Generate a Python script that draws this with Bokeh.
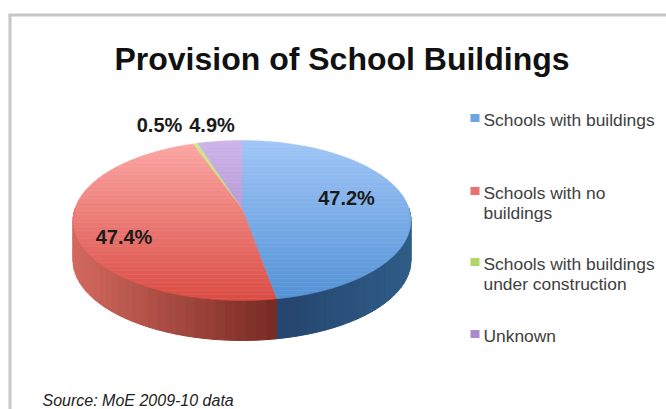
import math
from bokeh.plotting import figure
from bokeh.models import Range1d
from bokeh.core.properties import value
from bokeh.embed import file_html
from bokeh.resources import INLINE

title = "Provision of School Buildings"
source_note = "Source: MoE 2009-10 data"
categories = ["Schools with buildings", "Schools with no buildings",
              "Schools with buildings under construction", "Unknown"]
legend_lines = [["Schools with buildings"], ["Schools with no", "buildings"],
                ["Schools with buildings", "under construction"], ["Unknown"]]
shares = [47.2, 47.4, 0.5, 4.9]
labels = ["47.2%", "47.4%", "0.5%", "4.9%"]
top_far = ["#A0C6F7", "#FCA8A6", "#D4E88C", "#CDB4E8"]
top_near = ["#5291D5", "#DA4C43", "#A8C850", "#9A78C0"]
side_a = ["#24446C", "#7A2C24", "#6A8030", "#5A4080"]
side_b = ["#2F5C88", "#D2685E", "#6A8030", "#5A4080"]
legend_colors = ["#6FA5E3", "#E8716C", "#B5D36B", "#A98BCB"]

CX, CY, RX, RY, K, DEPTH = 241.5, 208.0, 167.0, 78.2, 0.15, 40.0
TOP, BOTTOM = 140.0, 300.0


def project(deg):
    t = math.radians(deg)
    u, v = math.sin(t), math.cos(t)
    w = 1 + K * v
    return CX + RX * u / w, CY - RY * v / w


def mix(a, b, f):
    f = max(0.0, min(1.0, f))
    pa = [int(a[i:i + 2], 16) for i in (1, 3, 5)]
    pb = [int(b[i:i + 2], 16) for i in (1, 3, 5)]
    return "#%02x%02x%02x" % tuple(round(x + (y - x) * f) for x, y in zip(pa, pb))


def clip(pts, y0, y1):
    def half(poly, inside, cross):
        out = []
        for i, p in enumerate(poly):
            q = poly[(i + 1) % len(poly)]
            if inside(p):
                out.append(p)
            if inside(p) != inside(q):
                f = (cross - p[1]) / (q[1] - p[1])
                out.append((p[0] + (q[0] - p[0]) * f, cross))
        return out
    a = half(pts, lambda p: p[1] >= y0, y0)
    return half(a, lambda p: p[1] <= y1, y1) if a else []


p = figure(width=666, height=409, x_range=Range1d(0, 666), y_range=Range1d(409, 0),
           output_backend="svg", toolbar_location=None, min_border=0,
           outline_line_color=None, background_fill_color="white", border_fill_color="white")
p.axis.visible = False
p.grid.visible = False

# chart frame
p.line([9.5, 9.5], [409, 14.5], line_color="#C6C6C6", line_width=3)
p.line([8, 666], [14.5, 14.5], line_color="#C6C6C6", line_width=3)

# slice boundaries, clockwise from twelve o'clock
total = sum(shares)
edges = [0.0]
for s in shares:
    edges.append(edges[-1] + s / total * 360)

# side wall of the near half
for i in range(len(shares)):
    a0, a1 = max(edges[i], 90.0), min(edges[i + 1], 270.0)
    if a1 <= a0:
        continue
    n = max(2, int((a1 - a0) / 3.0))
    for j in range(n):
        d0 = a0 + (a1 - a0) * j / n
        d1 = a0 + (a1 - a0) * (j + 1) / n
        x0, y0 = project(d0)
        x1, y1 = project(d1)
        f = abs(x0 - project(edges[1])[0]) / 136.0 if i == 0 else abs(x0 - project(edges[1])[0]) / 200.0
        c = mix(side_a[i], side_b[i], f)
        p.patch([x0, x1, x1, x0], [y0, y1, y1 + DEPTH, y0 + DEPTH],
                fill_color=c, line_color=c, line_width=1)

# top face with vertical gradient bands
BAND = 4.0
for i in range(len(shares)):
    a0, a1 = edges[i], edges[i + 1]
    n = max(2, int((a1 - a0) / 1.0))
    outline = [(CX, CY)] + [project(a0 + (a1 - a0) * j / n) for j in range(n + 1)]
    y = TOP - 2
    while y < BOTTOM + 2:
        piece = clip(outline, y, y + BAND)
        if len(piece) >= 3:
            c = mix(top_far[i], top_near[i], (y + BAND / 2 - TOP) / (BOTTOM - TOP))
            p.patch([q[0] for q in piece], [q[1] for q in piece],
                    fill_color=c, line_color=c, line_width=0.5)
        y += BAND

FONT = value("Liberation Sans")
p.text([341.5], [58], text=[title], text_font=FONT, text_font_size="32px", text_font_style="bold",
       text_color="#111111", text_align="center", text_baseline="middle")

label_x = [346, 123.5, 159, 211.5]
label_y = [197, 236, 124, 124]
p.text(label_x, label_y, text=labels, text_font=FONT, text_font_size="20px", text_font_style="bold",
       text_color="#1A1A1A", text_align="center", text_baseline="middle")

legend_y = [119, 192, 263, 335]
for lines, y, c in zip(legend_lines, legend_y, legend_colors):
    p.rect([474.5], [y - 1.5], width=9, height=8, fill_color=c, line_color=None)
    for k, line in enumerate(lines):
        p.text([483], [y + k * 20.5], text=[line], text_font=FONT, text_font_size="17.4px",
               text_color="#404040", text_align="left", text_baseline="middle")

p.text([42], [400], text=[source_note], text_font=FONT, text_font_size="16px", text_font_style="italic",
       text_color="#222222", text_align="left", text_baseline="middle")

open("out.html", "w").write(file_html(p, INLINE))
